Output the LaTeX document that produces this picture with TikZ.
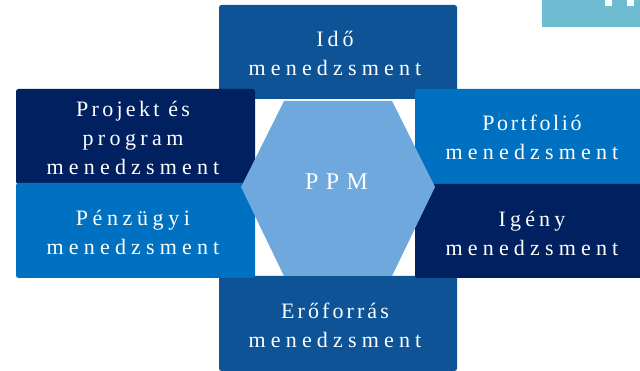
\documentclass[tikz,border=0pt]{standalone}
\usepackage{fontspec}
\setmainfont{Liberation Serif}
\newcommand\lsword[2]{{\addfontfeature{LetterSpace=#1}#2}}
\newcommand\mgmt{\lsword{23.5}{menedzsment}}
\definecolor{cmid}{HTML}{0D5396}
\definecolor{cdark}{HTML}{00205F}
\definecolor{cblue}{HTML}{0070C0}
\definecolor{chex}{HTML}{6FA8DC}
\definecolor{cteal}{HTML}{6DBCD1}
\tikzset{
 tile/.style={fill=#1,rounded corners=2.5pt,draw=none},
 lab/.style={text=white,align=center,font=\fontsize{22}{29}\selectfont,inner sep=0pt},
}
\begin{document}
\begin{tikzpicture}[x=1pt,y=-1pt]
\useasboundingbox (0,0) rectangle (640,371);
\fill[white] (0,0) rectangle (640,371);
\fill[cteal] (542,0) rectangle (640,27);
\fill[white] (605,0) rectangle (612,6);
\fill[white] (627,0) rectangle (634,6);
\path[tile=cmid] (219,5) rectangle (457,99);
\path[tile=cmid] (219,276) rectangle (457,371);
\path[tile=cblue] (415,89) rectangle (660,184);
\path[tile=cdark] (415,184) rectangle (660,278);
\path[tile=cdark] (16,89) rectangle (255,184);
\path[tile=cblue] (16,183) rectangle (255,278);
\fill[chex] (241,187) -- (284,101) -- (392,101) -- (435,187) -- (392,276) -- (284,276) -- cycle;
\node[lab] (ido) at (335,53) {\lsword{18}{Idő}\\\mgmt};
\node[lab] (ero) at (335,325) {\lsword{14}{Erőforrás}\\\mgmt};
\node[lab] (port) at (532,137) {\lsword{12}{Portfolió}\\\mgmt};
\node[lab] (igeny) at (532,233) {\lsword{19}{Igény}\\\mgmt};
\node[lab] (proj) at (133,138) {\lsword{15}{Projekt és}\\\lsword{20}{program}\\\mgmt};
\node[lab] (penz) at (133,232) {\lsword{21}{Pénzügyi}\\\mgmt};
\node[lab,font=\fontsize{24}{29}\selectfont] (ppm) at (336.5,182) {\lsword{31}{PPM}};
\end{tikzpicture}
\end{document}
